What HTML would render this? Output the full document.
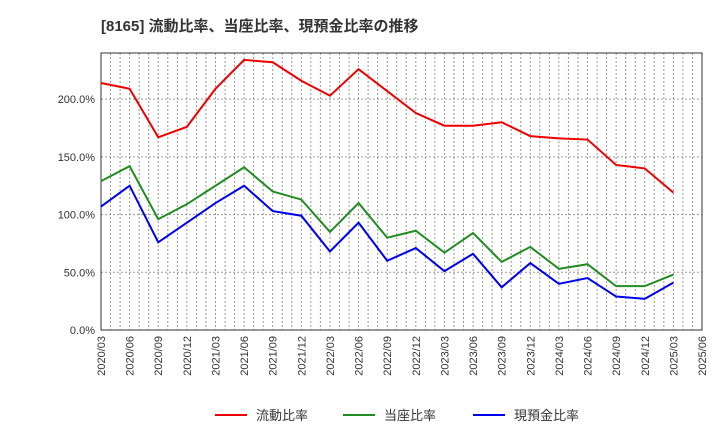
<!DOCTYPE html>
<html><head><meta charset="utf-8"><style>
body{margin:0;background:#fff;font-family:"Liberation Sans","Noto Sans CJK JP",sans-serif}
</style></head><body>
<svg id="c" width="720" height="440" xmlns="http://www.w3.org/2000/svg">
<text x="101" y="31" font-size="15" font-weight="bold" fill="#333" font-family="Liberation Sans,Noto Sans CJK JP,sans-serif">[8165]  流動比率、当座比率、現預金比率の推移</text>
<g id="grid"></g><g id="axes"></g><g id="series"></g><g id="legend"></g>
</svg>
<script>
const categories=["2020/03","2020/06","2020/09","2020/12","2021/03","2021/06","2021/09","2021/12","2022/03","2022/06","2022/09","2022/12","2023/03","2023/06","2023/09","2023/12","2024/03","2024/06","2024/09","2024/12","2025/03"];
const tickLabels=["2020/03","2020/06","2020/09","2020/12","2021/03","2021/06","2021/09","2021/12","2022/03","2022/06","2022/09","2022/12","2023/03","2023/06","2023/09","2023/12","2024/03","2024/06","2024/09","2024/12","2025/03","2025/06"];
const currentRatio=[214,209,167,176,209,234,232,216,203,226,207,188,177,177,180,168,166,165,143,140,119];
const quickRatio=[129,142,96,109,125,141,120,113,85,110,80,86,67,84,59,72,53,57,38,38,48];
const cashRatio=[107,125,76,93,110,125,103,99,68,93,60,71,51,66,37,58,40,45,29,27,41];
const yTicks=[0,50,100,150,200];
const seriesNames=["流動比率","当座比率","現預金比率"];
const L=101,R=702,T=53,B=330,YMAX=240,NQ=21;
const ns="http://www.w3.org/2000/svg";
function x(i){return L+(R-L)*i/NQ;}
function y(v){return B-(B-T)*v/YMAX;}
function mk(tag,attrs,parent){const e=document.createElementNS(ns,tag);for(const k in attrs)e.setAttribute(k,attrs[k]);document.getElementById(parent).appendChild(e);return e;}
for(let m=1;m<NQ*3;m++){const xx=L+(R-L)*m/(NQ*3);
const g=mk("line",{x1:xx,x2:xx,y1:T,y2:B,stroke:"#999","stroke-dasharray":"2,2","stroke-width":1},"grid");

}
yTicks.forEach(v=>{if(v>0){const g=mk("line",{x1:L,x2:R,y1:y(v),y2:y(v),stroke:"#999","stroke-dasharray":"2,2"},"grid");

}
const t=mk("text",{x:L-6,y:y(v)+4,"text-anchor":"end","font-size":11,fill:"#333"},"axes");t.textContent=v.toFixed(1)+"%";

});
const fr=mk("rect",{x:L,y:T,width:R-L,height:B-T,fill:"none",stroke:"#333"},"axes");


tickLabels.forEach((s,i)=>{const xx=x(i);const t=mk("text",{x:xx+4,y:B+6,"text-anchor":"end","font-size":11,fill:"#333",transform:`rotate(-90 ${xx+4} ${B+6})`},"axes");t.textContent=s;

});
const colors=["#ee0000","#228B22","#0000ee"];
[currentRatio,quickRatio,cashRatio].forEach((d,k)=>{
const p=mk("polyline",{points:d.map((v,i)=>x(i)+","+y(v)).join(" "),fill:"none",stroke:colors[k],"stroke-width":2},"series");


const lx=[215,343,473][k];
const ll=mk("line",{x1:lx,x2:lx+32,y1:415,y2:415,stroke:colors[k],"stroke-width":2},"legend");


const lt=mk("text",{x:lx+41,y:420,"font-size":13,fill:"#333"},"legend");lt.textContent=seriesNames[k];

});
</script>
</body></html>
